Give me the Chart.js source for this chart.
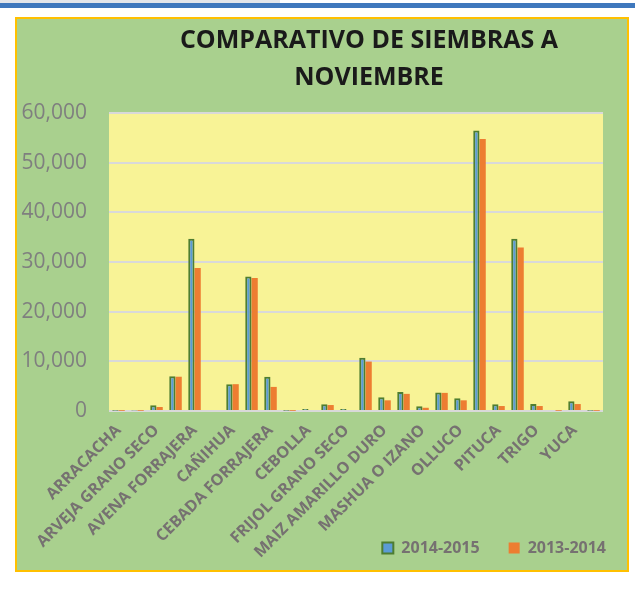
<!DOCTYPE html>
<html>
<head>
<meta charset="utf-8">
<script src="https://cdn.jsdelivr.net/npm/chart.js@4.4.1/dist/chart.umd.min.js"></script>
<style>
    body { margin: 0; background: #ffffff; width: 635px; height: 595px; position: relative; overflow: hidden; }
    .franja-gris { position: absolute; left: 0; top: 0; width: 280px; height: 3px; background: #e4e6ea; }
    .franja-azul { position: absolute; left: 0; top: 3px; width: 635px; height: 5px; background: #3f78bd; }
    .marco { position: absolute; left: 15px; top: 17px; width: 610px; height: 551px; border: 2px solid #ffc000; background: #a9d08e; overflow: hidden; }
    .marco canvas { display: block; }
</style>
</head>
<body>
<div class="franja-gris"></div>
<div class="franja-azul"></div>
<div class="marco"><canvas id="siembrasChart" width="618" height="551"></canvas></div>
<script>
// ==================== DATOS ====================
const cultivos = [
    'ARRACACHA', 'ARROZ CASCARA', 'ARVEJA GRANO SECO', 'ARVEJA GRANO VERDE',
    'AVENA FORRAJERA', 'AVENA GRANO', 'CAÑIHUA', 'CEBADA GRANO',
    'CEBADA FORRAJERA', 'CAMOTE', 'CEBOLLA', 'CHOCLO',
    'FRIJOL GRANO SECO', 'HABA GRANO SECO', 'MAIZ AMARILLO DURO', 'MAIZ AMILACEO',
    'MASHUA O IZANO', 'OCA', 'OLLUCO', 'PAPA',
    'PITUCA', 'QUINUA', 'TRIGO', 'TUNA', 'YUCA', 'ZAPALLO'
];
const campania2014 = [
    60, 80, 1150, 7000, 34700, 200, 5400, 27100, 6900, 60, 400, 1350, 400,
    10700, 2750, 3850, 950, 3700, 2550, 56500, 1350, 34700, 1400, 200, 1950, 60
];
const campania2013 = [
    40, 50, 800, 6900, 28800, 0, 5400, 26800, 4850, 40, 200, 1200, 200,
    9950, 2150, 3450, 650, 3650, 2150, 54750, 1000, 32900, 1000, 50, 1400, 40
];
const ticksY = [0, 10000, 20000, 30000, 40000, 50000, 60000];

// ==================== FONDO DEL ÁREA Y TÍTULO ====================
const fondoArea = {
    id: 'fondoArea',
    afterLayout(chart) {
        // el título de Excel queda algo corrido a la derecha
        if (chart.titleBlock) { chart.titleBlock.left += 13; chart.titleBlock.right += 13; }
    },
    beforeDraw(chart) {
        const { ctx, chartArea } = chart;
        ctx.save();
        ctx.fillStyle = '#f8f396';
        ctx.fillRect(chartArea.left, chartArea.top, chartArea.right - chartArea.left, chartArea.bottom - chartArea.top);
        ctx.restore();
    }
};

// ==================== GRÁFICO ====================
const ctx = document.getElementById('siembrasChart').getContext('2d');
new Chart(ctx, {
    type: 'bar',
    data: {
        labels: cultivos,
        datasets: [
            {
                label: '2014-2015',
                data: campania2014,
                backgroundColor: '#5b9bd5',
                borderColor: '#4e7d31',
                borderWidth: 2,
                borderSkipped: 'bottom'
            },
            {
                label: '2013-2014',
                data: campania2013,
                backgroundColor: '#ed7d31',
                borderWidth: 0
            }
        ]
    },
    options: {
        responsive: false,
        animation: false,
        layout: { padding: { left: 4, right: 0, top: 0, bottom: 4 } },
        datasets: { bar: { categoryPercentage: 0.66, barPercentage: 1.0 } },
        scales: {
            x: {
                grid: { display: false },
                border: { display: false },
                afterFit: (axis) => {
                    // etiquetas largas: se dejan salir del eje (como en Excel)
                    axis.height = 100;
                    axis.paddingLeft = 0;
                    axis.paddingRight = 0;
                    axis._computeLabelArea = () => undefined;
                },
                ticks: {
                    autoSkip: false,
                    maxRotation: 45,
                    minRotation: 45,
                    color: '#767171',
                    font: { family: 'Open Sans', size: 16, weight: 'bold' },
                    padding: 2,
                    callback: (val, i) => (i % 2 === 0 ? cultivos[i] : '')
                }
            },
            y: {
                min: 0,
                max: 60000,
                afterBuildTicks: (axis) => { axis.ticks = ticksY.map(v => ({ value: v })); },
                afterFit: (axis) => { axis.width = 88; },
                grid: { color: '#d9d9d9', lineWidth: 2, drawTicks: false },
                border: { display: false },
                ticks: {
                    color: '#7f7f7f',
                    padding: 22,
                    font: { family: 'Open Sans', size: 21 },
                    callback: (v) => v.toLocaleString('en-US')
                }
            },
            margenDer: {
                position: 'right',
                grid: { display: false },
                border: { display: false },
                ticks: { display: false },
                afterFit: (axis) => { axis.width = 32; }
            }
        },
        plugins: {
            title: {
                display: true,
                text: ['COMPARATIVO DE SIEMBRAS A', 'NOVIEMBRE'],
                color: '#1a1a1a',
                font: { family: 'Open Sans', size: 25, weight: 'bold', lineHeight: 1.5 },
                fullSize: false,
                padding: { top: 3, bottom: 16 }
            },
            legend: {
                position: 'bottom',
                align: 'end',
                labels: {
                    color: '#767171',
                    font: { family: 'Open Sans', size: 16, weight: 'bold' },
                    boxWidth: 11,
                    boxHeight: 11,
                    padding: 29
                }
            },
            tooltip: { enabled: false }
        }
    },
    plugins: [fondoArea]
});
</script>
</body>
</html>
